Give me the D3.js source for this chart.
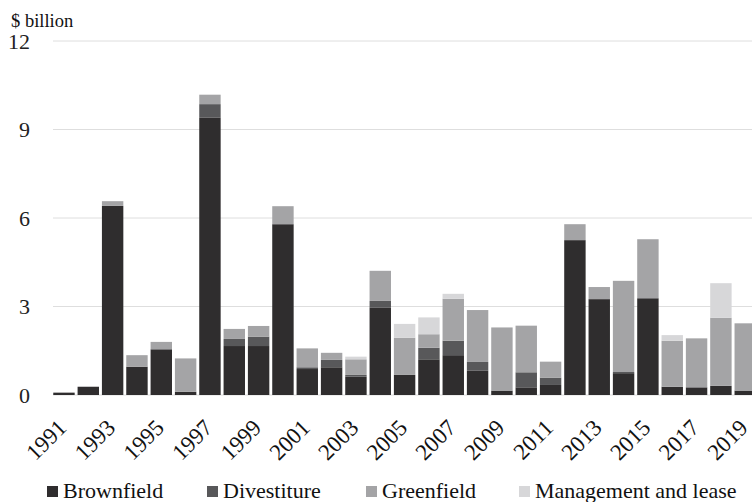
<!DOCTYPE html>
<html>
<head>
<meta charset="utf-8">
<script src="https://cdn.jsdelivr.net/npm/d3@7"></script>
<style>
  html, body { margin: 0; padding: 0; background: #fff; }
  svg { display: block; }
  svg text { font-family: "Liberation Serif", "Times New Roman", serif; }
</style>
</head>
<body>
<svg id="chart" width="752" height="502"></svg>
<script>
const years = d3.range(1991, 2020).map(String);
const seriesNames = ["Brownfield", "Divestiture", "Greenfield", "Management and lease"];
const brownfield = [0.08,0.28,6.41,0.96,1.55,0.11,9.41,1.66,1.66,5.79,0.88,0.94,0.62,2.97,0.68,1.21,1.35,0.82,0.15,0.26,0.34,5.25,3.25,0.74,3.28,0.28,0.26,0.31,0.15];
const divestiture = [0,0,0,0,0,0,0.45,0.24,0.32,0,0.06,0.25,0.06,0.22,0,0.39,0.49,0.30,0,0.51,0.25,0,0,0.04,0,0,0,0,0];
const greenfield = [0,0,0.16,0.39,0.25,1.13,0.32,0.34,0.36,0.61,0.64,0.24,0.53,1.02,1.26,0.46,1.42,1.76,2.14,1.58,0.54,0.54,0.41,3.09,2.00,1.56,1.66,2.31,2.28];
const management = [0,0,0,0,0,0,0,0,0,0,0,0,0.09,0,0.47,0.57,0.17,0,0,0,0,0,0,0,0,0.19,0,1.17,0];
const yTicks = [0, 3, 6, 9, 12];
const xTickLabels = years.filter((d, i) => i % 2 === 0);
const colors = ["#2f2d2e", "#58585a", "#a4a4a6", "#d7d7d9"];
const FONT = "Liberation Serif";

const rows = years.map((y, i) => ({
  year: y,
  "Brownfield": brownfield[i],
  "Divestiture": divestiture[i],
  "Greenfield": greenfield[i],
  "Management and lease": management[i]
}));

const svg = d3.select("#chart");
const x = d3.scaleBand().domain(years).range([51.8, 757.4]).paddingInner(0.12).paddingOuter(0.06);
const y = d3.scaleLinear().domain([0, 12]).range([395, 41]);
const color = d3.scaleOrdinal().domain(seriesNames).range(colors);

// gridlines
svg.append("g").selectAll("line").data(yTicks).join("line")
  .attr("x1", 53).attr("x2", 752)
  .attr("y1", d => y(d)).attr("y2", d => y(d))
  .attr("stroke", "#dedede").attr("stroke-width", 1);

// stacked bars
const stack = d3.stack().keys(seriesNames)(rows);
svg.append("g").selectAll("g").data(stack).join("g")
  .attr("fill", d => color(d.key))
  .selectAll("rect").data(d => d).join("rect")
  .attr("x", d => x(d.data.year))
  .attr("width", x.bandwidth())
  .attr("y", d => y(d[1]))
  .attr("height", d => Math.max(0, y(d[0]) - y(d[1])));

// y axis
const yAxis = svg.append("g").attr("transform", "translate(53,0)")
  .call(d3.axisLeft(y).tickValues(yTicks).tickSize(0).tickPadding(23));
yAxis.attr("font-family", FONT);
yAxis.select(".domain").remove();
yAxis.selectAll("text").attr("font-family", FONT).attr("font-size", 22).attr("fill", "#222");

// x axis
const xAxis = svg.append("g").attr("transform", "translate(0,395)")
  .call(d3.axisBottom(x).tickValues(xTickLabels).tickSize(0));
xAxis.attr("font-family", FONT);
xAxis.select(".domain").remove();
xAxis.selectAll("text")
  .attr("font-family", FONT).attr("font-size", 23).attr("fill", "#111")
  .attr("x", 0).attr("y", 0).attr("dy", 0)
  .attr("text-anchor", "end")
  .attr("transform", "translate(4,34) rotate(-45)");

// unit label
svg.append("text").attr("x", 11).attr("y", 27)
  .attr("font-family", FONT).attr("font-size", 18.5).attr("fill", "#111").text("$ billion");

// legend
const legendX = [47, 207, 366, 519];
const lg = svg.append("g").selectAll("g").data(seriesNames).join("g")
  .attr("transform", (d, i) => `translate(${legendX[i]},0)`);
lg.append("rect").attr("x", 0).attr("y", 486).attr("width", 11).attr("height", 11)
  .attr("fill", d => color(d));
lg.append("text").attr("x", 16).attr("y", 498)
  .attr("font-family", FONT).attr("font-size", 22).attr("fill", "#111")
  .text(d => d);
</script>
</body>
</html>
